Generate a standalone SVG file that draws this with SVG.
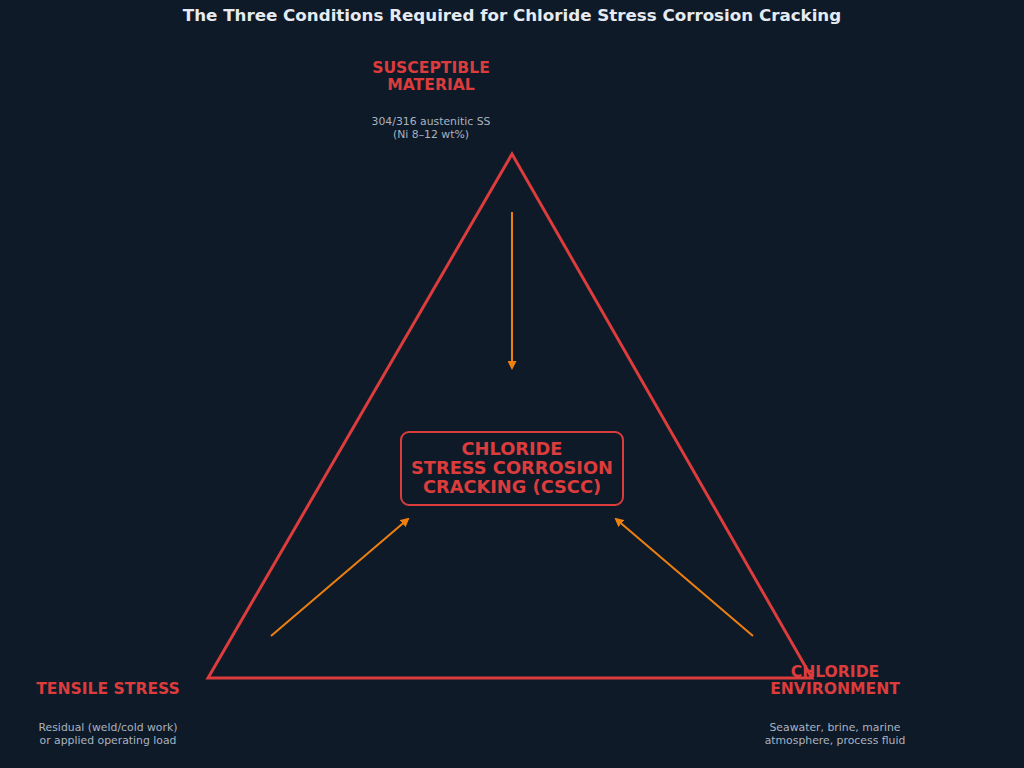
<svg xmlns="http://www.w3.org/2000/svg" width="1024" height="768" viewBox="0 0 1024 768">
<defs>
<marker id="ah" markerWidth="9" markerHeight="9" refX="7" refY="4.5" orient="auto" markerUnits="userSpaceOnUse">
<path d="M0,0 L9,4.5 L0,9 Z" fill="#ee8010"/>
</marker>
<style>
.title{font-family:"DejaVu Sans",sans-serif;font-weight:bold;font-size:16.7px;fill:#e6ebf2;text-anchor:middle}
.lbl{font-family:"DejaVu Sans",sans-serif;font-weight:bold;font-size:15.6px;fill:#dc3c3c;text-anchor:middle}
.sub{font-family:"DejaVu Sans",sans-serif;font-size:10.85px;fill:#a9b3c0;text-anchor:middle}
.ctr{font-family:"DejaVu Sans",sans-serif;font-weight:bold;font-size:17.8px;fill:#dc3c3c;text-anchor:middle}
.arr{stroke:#ee8010;stroke-width:2;fill:none;marker-end:url(#ah)}
</style>
</defs>
<rect width="1024" height="768" fill="#0f1a28"/>
<text class="title" x="512" y="21">The Three Conditions Required for Chloride Stress Corrosion Cracking</text>
<g id="triangle">
<polygon points="512,154 208,678 812,678" fill="none" stroke="#dc3c3c" stroke-width="3" stroke-linejoin="miter"/>
</g>
<g id="connectors">
<line class="arr" x1="512" y1="212" x2="512" y2="368"/>
<line class="arr" x1="271" y1="636" x2="408" y2="519"/>
<line class="arr" x1="753" y1="636" x2="616" y2="519"/>
</g>
<g id="material">
<text class="lbl" x="431" y="73">SUSCEPTIBLE</text>
<text class="lbl" x="431" y="90">MATERIAL</text>
<text class="sub" x="431" y="125">304/316 austenitic SS</text>
<text class="sub" x="431" y="138">(Ni 8–12 wt%)</text>
</g>
<g id="stress">
<text class="lbl" x="108" y="694">TENSILE STRESS</text>
<text class="sub" x="108" y="731">Residual (weld/cold work)</text>
<text class="sub" x="108" y="744">or applied operating load</text>
</g>
<g id="environment">
<text class="lbl" x="835" y="677">CHLORIDE</text>
<text class="lbl" x="835" y="694">ENVIRONMENT</text>
<text class="sub" x="835" y="731">Seawater, brine, marine</text>
<text class="sub" x="835" y="744">atmosphere, process fluid</text>
</g>
<g id="cscc">
<rect x="401" y="432" width="222" height="73" rx="8" fill="#0f1a28" stroke="#dc3c3c" stroke-width="2"/>
<text class="ctr" x="512" y="455">CHLORIDE</text>
<text class="ctr" x="512" y="474">STRESS CORROSION</text>
<text class="ctr" x="512" y="493">CRACKING (CSCC)</text>
</g>
</svg>
